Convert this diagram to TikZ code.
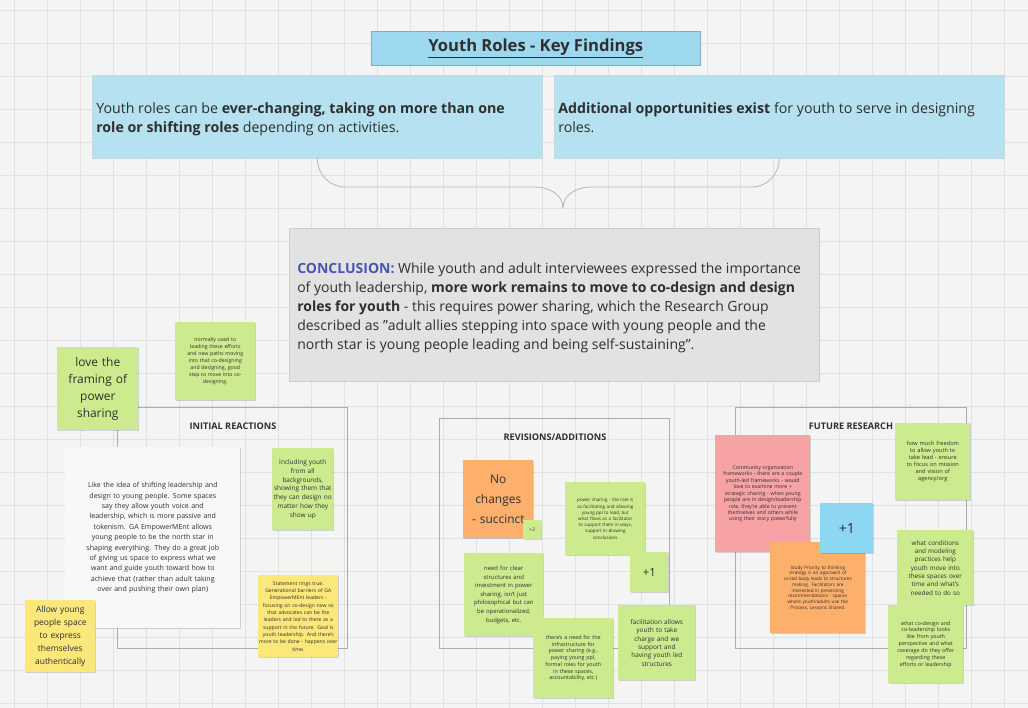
\documentclass[tikz,border=0pt]{standalone}
\usepackage{fontspec}
\setmainfont{Open Sans}
\usetikzlibrary{calc, shadows}

\definecolor{bgc}{HTML}{F4F4F4}
\definecolor{gridc}{HTML}{E1E1E1}
\definecolor{titleblue}{HTML}{9ED8EE}
\definecolor{boxblue}{HTML}{B5E1F0}
\definecolor{concgray}{HTML}{E2E2E2}
\definecolor{concblue}{HTML}{4A55B0}
\definecolor{stickygreen}{HTML}{CBEB8E}
\definecolor{stickyyellow}{HTML}{FBE77A}
\definecolor{stickyorange}{HTML}{FCB06C}
\definecolor{stickypink}{HTML}{F7A2A5}
\definecolor{stickyblue}{HTML}{8DD7F3}
\definecolor{stickywhite}{HTML}{F8F8F9}
\definecolor{inkc}{HTML}{2F2F2F}

\tikzset{
  note/.style={anchor=north west, inner sep=0pt, align=center, text=inkc,
    drop shadow={shadow xshift=.4pt, shadow yshift=-.8pt, fill=black, opacity=.15}},
  framebox/.style={anchor=north west, draw=gray!65, line width=.5pt, inner sep=0pt},
  framehead/.style={font=\bfseries\fontsize{6.5}{8}\selectfont, text=inkc},
  bluebox/.style={anchor=north west, fill=boxblue, draw=boxblue!85!black!60, line width=.3pt,
    minimum width=11.25cm, minimum height=2.075cm, inner sep=0pt},
  boxtext/.style={anchor=north west, inner sep=0pt, align=left, text=inkc,
    font=\fontsize{10.1}{13.5}\selectfont}
}

\begin{document}
\begin{tikzpicture}[x=0.025cm, y=-0.025cm]
\fill[bgc] (0,0) rectangle (1028,708);
\useasboundingbox (0,0) rectangle (1028,708);
\foreach \gx in {14,47,...,1028}
  \draw[gridc, line width=.4pt] (\gx,0) -- (\gx,708);
\foreach \gy in {10,43,...,708}
  \draw[gridc, line width=.4pt] (0,\gy) -- (1028,\gy);

\node[anchor=north west, fill=titleblue, draw=titleblue!80!black, line width=.3pt,
  minimum width=8.225cm, minimum height=.85cm, inner sep=0pt, text=inkc,
  font=\bfseries\fontsize{11.8}{13}\selectfont] (title) at (371,31) {\underline{Youth Roles - Key Findings}};

\node[bluebox] (lb) at (92,75) {};
\node[bluebox] (rb) at (554,75) {};
\node[boxtext] (lbtext) at (96,102) {Youth roles can be \textbf{ever-changing, taking on more than one}\\\textbf{role or shifting roles} depending on activities.};
\node[boxtext] (rbtext) at (558,102) {\textbf{Additional opportunities exist} for youth to serve in designing\\roles.};

\node[anchor=north west, fill=concgray, draw=gray!40, line width=.4pt,
  minimum width=13.25cm, minimum height=3.825cm, inner sep=0pt] (conc) at (289,228) {};
\node[boxtext, font=\fontsize{9.95}{13.5}\selectfont] (conctext) at (297,263) {\textcolor{concblue}{\textbf{CONCLUSION:}} While youth and adult interviewees expressed the importance\\of youth leadership, \textbf{more work remains to move to co-design and design}\\\textbf{roles for youth} - this requires power sharing, which the Research Group\\described as "adult allies stepping into space with young people and the\\north star is young people leading and being self-sustaining".};

\coordinate (tip) at (563,208);
\draw[gray!55, line width=.6pt] (lb.south) to[out=-90, in=180] (345,187) -- (535,187) to[out=0, in=90] (tip);
\draw[gray!55, line width=.6pt] (rb.south) to[out=-90, in=0] (752,187) -- (591,187) to[out=180, in=90] (tip);

\node[framebox, minimum width=5.75cm, minimum height=6.025cm] (initial) at (117,407) {};
\node[framebox, minimum width=5.75cm, minimum height=5.75cm] (revisions) at (439,418) {};
\node[framebox, minimum width=5.775cm, minimum height=6.025cm] (future) at (735,407) {};
\node[framehead] (initialhead) at (233,426) {INITIAL REACTIONS};
\node[framehead] (revisionshead) at (555,437) {REVISIONS/ADDITIONS};
\node[framehead] (futurehead) at (851,426) {FUTURE RESEARCH};

\node[note, fill=stickygreen, minimum width=2cm, minimum height=1.95cm, text width=1.8cm,
  font=\fontsize{3.7}{5}\selectfont] (normally) at (175,322)
  {normally used to\\leading these efforts\\and new paths moving\\into that co-designing\\and designing, good\\step to move into co-\\designing.};
\node[note, fill=stickygreen, minimum width=2.025cm, minimum height=2.075cm, text width=1.9cm,
  font=\fontsize{8.5}{12}\selectfont] (love) at (57,347)
  {love the\\framing of\\power\\sharing};
\node[note, fill=stickywhite, minimum width=4.375cm, minimum height=4.525cm, text width=4cm,
  font=\fontsize{5}{7.4}\selectfont] (idea) at (65,447)
  {Like the idea of shifting leadership and\\design to young people. Some spaces\\say they allow youth voice and\\leadership, which is more passive and\\tokenism. GA EmpowerMEnt allows\\young people to be the north star in\\shaping everything. They do a great job\\of giving us space to express what we\\want and guide youth toward how to\\achieve that (rather than adult taking\\over and pushing their own plan)};
\node[note, fill=stickyyellow, minimum width=1.75cm, minimum height=1.8cm, text width=1.65cm,
  font=\fontsize{6}{9.2}\selectfont] (allow) at (25,600)
  {Allow young\\people space\\to express\\themselves\\authentically};
\node[note, fill=stickygreen, minimum width=1.525cm, minimum height=2.05cm, text width=1.5cm,
  font=\fontsize{4.6}{6.2}\selectfont] (including) at (272,448)
  {Including youth\\from all\\backgrounds,\\showing them that\\they can design no\\matter how they\\show up};
\node[note, fill=stickyyellow, minimum width=2cm, minimum height=2.05cm, text width=2cm,
  font=\fontsize{3.6}{5.2}\selectfont] (statement) at (258,575)
  {Statement rings true.\\Generational barriers of GA\\EmpowerMEnt leaders -\\focusing on co-design now so\\that advocates can be the\\leaders and led to there as a\\support in the future. Goal is\\youth leadership. And there's\\more to be done - happens over\\time.};

\node[note, fill=stickyorange, minimum width=1.75cm, minimum height=1.95cm, text width=1.7cm,
  font=\fontsize{8.5}{14}\selectfont] (nochange) at (463,460)
  {No\\changes\\- succinct};
\node[note, fill=stickygreen, minimum width=.45cm, minimum height=.475cm,
  font=\fontsize{3.5}{4}\selectfont] (plustwo) at (523,520) {+2};
\node[note, fill=stickygreen, minimum width=2cm, minimum height=1.825cm, text width=1.8cm,
  font=\fontsize{3.2}{4.4}\selectfont] (powershare) at (565,482)
  {power sharing - the role is\\as facilitating and allowing\\young ppl to lead, but\\what flows as a facilitator\\to support them in ways,\\support in drawing\\conclusions};
\node[note, fill=stickygreen, minimum width=.95cm, minimum height=1cm,
  font=\fontsize{8}{10}\selectfont] (plusone) at (630,552) {+1};
\node[note, fill=stickygreen, minimum width=1.975cm, minimum height=2.075cm, text width=1.8cm,
  font=\fontsize{4.2}{6.1}\selectfont] (clear) at (464,553)
  {need for clear\\structures and\\investment in power\\sharing, isn't just\\philosophical but can\\be operationalized,\\budgets, etc.};
\node[note, fill=stickygreen, minimum width=2cm, minimum height=2cm, text width=1.85cm,
  font=\fontsize{3.8}{4.8}\selectfont] (infra) at (533,618)
  {there's a need for the\\infrastructure for\\power sharing (e.g.,\\paying young ppl,\\formal roles for youth\\in these spaces,\\accountability, etc.)};
\node[note, fill=stickygreen, minimum width=1.925cm, minimum height=1.875cm, text width=1.8cm,
  font=\fontsize{4.6}{6}\selectfont] (facil) at (618,605)
  {facilitation allows\\youth to take\\charge and we\\support and\\having youth led\\structures};

\node[note, fill=stickypink, minimum width=2.375cm, minimum height=2.925cm, text width=2.25cm,
  font=\fontsize{3.7}{4.6}\selectfont] (community) at (715,435)
  {Community organization\\frameworks - there are a couple\\youth-led frameworks - would\\love to examine more +\\strategic sharing - when young\\people are in design/leadership\\role, they're able to present\\themselves and others while\\using their story powerfully};
\node[note, fill=stickyorange, minimum width=2.375cm, minimum height=2.275cm, text width=2.2cm,
  font=\fontsize{3.3}{4.1}\selectfont] (study) at (770,542)
  {Study Priority to thinking\\strategy is an approach of\\co-led body leads to structures\\making. Facilitators are\\interested in presenting\\recommendations - spaces\\where youth/adults use the\\Process, Lessons Shared.};
\node[note, fill=stickyblue, minimum width=1.325cm, minimum height=1.25cm,
  font=\fontsize{10}{12}\selectfont] (plusblue) at (820,503) {+1};
\node[note, fill=stickygreen, minimum width=1.875cm, minimum height=1.925cm, text width=1.75cm,
  font=\fontsize{4}{5}\selectfont] (howmuch) at (895,423)
  {how much freedom\\to allow youth to\\take lead - ensure\\to focus on mission\\and vision of\\agency/org};
\node[note, fill=stickygreen, minimum width=1.9cm, minimum height=1.875cm, text width=1.75cm,
  font=\fontsize{4.5}{5.9}\selectfont] (conditions) at (897,530)
  {what conditions\\and modeling\\practices help\\youth move into\\these spaces over\\time and what's\\needed to do so};
\node[note, fill=stickygreen, minimum width=1.875cm, minimum height=1.95cm, text width=1.75cm,
  font=\fontsize{3.8}{4.9}\selectfont] (codesign) at (888,605)
  {what co-design and\\co-leadership looks\\like from youth\\perspective and what\\coverage do they offer\\regarding these\\efforts or leadership};
\end{tikzpicture}
\end{document}
